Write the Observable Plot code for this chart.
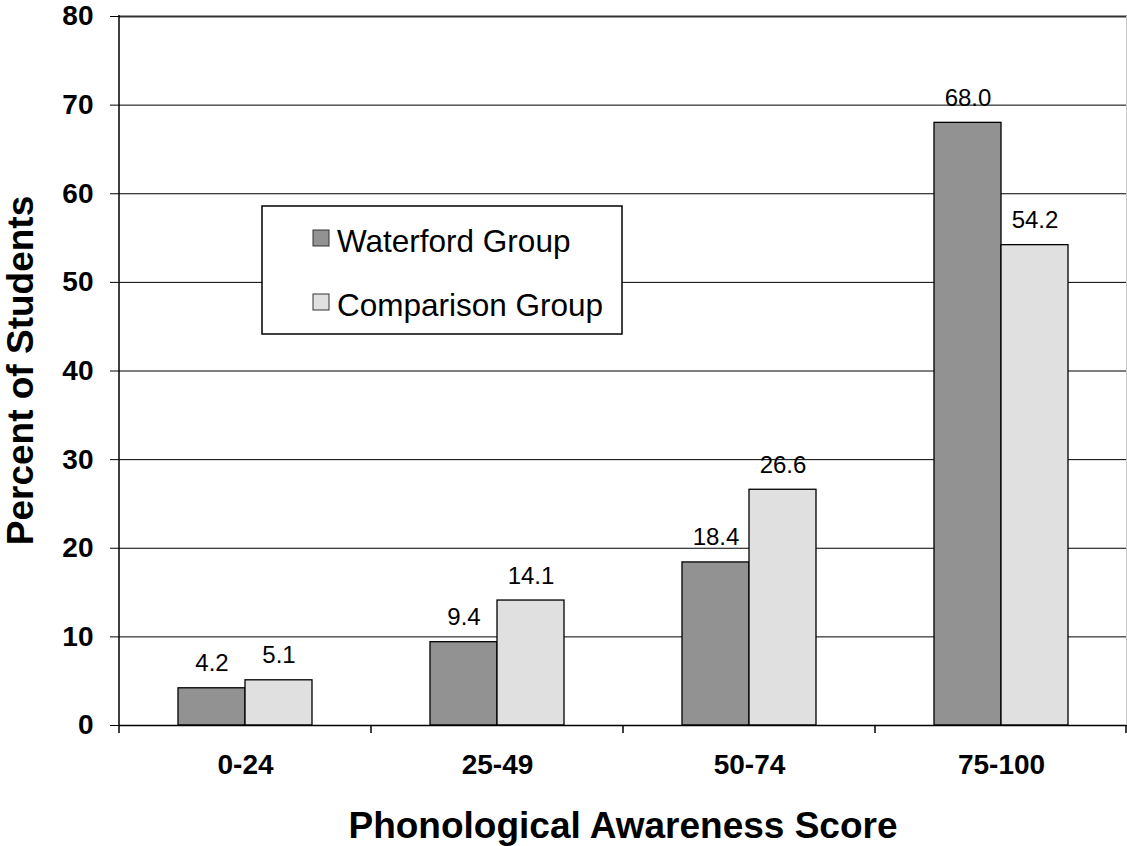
<!DOCTYPE html>
<html>
<head>
<meta charset="utf-8">
<script src="https://cdn.jsdelivr.net/npm/d3@7"></script>
<script src="https://cdn.jsdelivr.net/npm/@observablehq/plot@0.6"></script>
<style>
  html, body { margin: 0; padding: 0; background: #fff; }
  #chart { width: 1127px; height: 846px; }
</style>
</head>
<body>
<div id="chart"></div>
<script>
// Score bands (categories) and the two groups compared
const scoreBands = ["0-24", "25-49", "50-74", "75-100"];
const groups = ["Waterford Group", "Comparison Group"];

// Percent of students in each score band
const waterford = [4.2, 9.4, 18.4, 68.0];
const comparison = [5.1, 14.1, 26.6, 54.2];

// Y axis ticks
const yTicks = [0, 10, 20, 30, 40, 50, 60, 70, 80];

const groupColors = ["#929292", "#e0e0e0"];
const fontFamily = "'Liberation Sans', Arial, Helvetica, sans-serif";

// Long-format table for the grouped bars
const rows = scoreBands.flatMap((band, i) => [
  {band, group: groups[0], value: waterford[i]},
  {band, group: groups[1], value: comparison[i]}
]);

const chart = Plot.plot({
  width: 1127,
  height: 846,
  marginLeft: 119,
  marginRight: 0,
  marginTop: 16,
  marginBottom: 121,
  style: {fontFamily, background: "#fff", color: "#000", overflow: "visible"},
  fx: {domain: scoreBands, padding: 0, label: null},
  x: {domain: groups, paddingInner: 0, paddingOuter: 0.87, axis: null},
  y: {domain: [0, 80], label: null},
  color: {domain: groups, range: groupColors},
  marks: [
    Plot.ruleY(yTicks.filter((d) => d > 0 && d < 80), {stroke: "#000", strokeWidth: 1}),
    Plot.ruleY([80], {stroke: "#333", strokeWidth: 2}),
    Plot.barY(rows, {fx: "band", x: "group", y: "value", fill: "group", stroke: "#000", strokeWidth: 1.3}),
    Plot.text(rows, {
      fx: "band", x: "group", y: "value",
      text: (d) => d.value.toFixed(1),
      lineAnchor: "bottom", dy: -17, fontSize: 24, fill: "#000"
    }),
    Plot.ruleY([0], {stroke: "#000", strokeWidth: 1.5}),
    Plot.axisY({ticks: yTicks, tickSize: 9, tickPadding: 17, fontSize: 28, fontWeight: "bold", label: null}),
    Plot.axisFx({anchor: "bottom", tickSize: 0, tickPadding: 29, fontSize: 28, fontWeight: "bold", label: null})
  ]
});

document.getElementById("chart").appendChild(chart);

// Axis line, category boundary ticks, axis titles and the in-plot legend
const svg = d3.select(chart);
const fx = chart.scale("fx");
const y = chart.scale("y");
const left = fx.apply(scoreBands[0]);
const right = fx.apply(scoreBands[scoreBands.length - 1]) + fx.bandwidth;
const y0 = y.apply(0);
const yTop = y.apply(80);

const deco = svg.append("g").attr("text-anchor", "start");

// Right edge of the plot area
deco.append("line")
  .attr("x1", right - 0.5).attr("x2", right - 0.5)
  .attr("y1", yTop).attr("y2", y0)
  .attr("stroke", "#c8c8c8").attr("stroke-width", 1);

// Vertical axis line
deco.append("line")
  .attr("x1", left).attr("x2", left)
  .attr("y1", yTop - 1).attr("y2", y0 + 8)
  .attr("stroke", "#000").attr("stroke-width", 1.5);

// Ticks at the boundaries between score bands
const edges = scoreBands.map((b) => fx.apply(b)).concat([right - 1]);
deco.selectAll(".edge").data(edges.slice(1)).join("line")
  .attr("x1", (d) => d).attr("x2", (d) => d)
  .attr("y1", y0).attr("y2", y0 + 8)
  .attr("stroke", "#000").attr("stroke-width", 1.5);

// Axis titles
deco.append("text")
  .attr("transform", `translate(33,${(y0 + yTop) / 2}) rotate(-90)`)
  .attr("text-anchor", "middle")
  .attr("font-family", fontFamily)
  .attr("font-size", 37)
  .attr("font-weight", "bold")
  .attr("fill", "#000")
  .text("Percent of Students");

deco.append("text")
  .attr("x", (left + right) / 2)
  .attr("y", 838)
  .attr("text-anchor", "middle")
  .attr("font-family", fontFamily)
  .attr("font-size", 37)
  .attr("font-weight", "bold")
  .attr("fill", "#000")
  .text("Phonological Awareness Score");

// Legend box
const legend = deco.append("g").attr("transform", "translate(262,206)");
legend.append("rect")
  .attr("width", 360).attr("height", 128)
  .attr("fill", "#fff").attr("stroke", "#000").attr("stroke-width", 1.5);
groups.forEach((g, i) => {
  const item = legend.append("g").attr("transform", `translate(51,${24 + i * 64})`);
  item.append("rect")
    .attr("width", 16).attr("height", 16)
    .attr("fill", groupColors[i]).attr("stroke", "#333").attr("stroke-width", 1);
  item.append("text")
    .attr("x", 24).attr("y", 22)
    .attr("text-anchor", "start")
    .attr("font-family", fontFamily)
    .attr("font-size", 31.5)
    .attr("fill", "#000")
    .text(g);
});
</script>
</body>
</html>
